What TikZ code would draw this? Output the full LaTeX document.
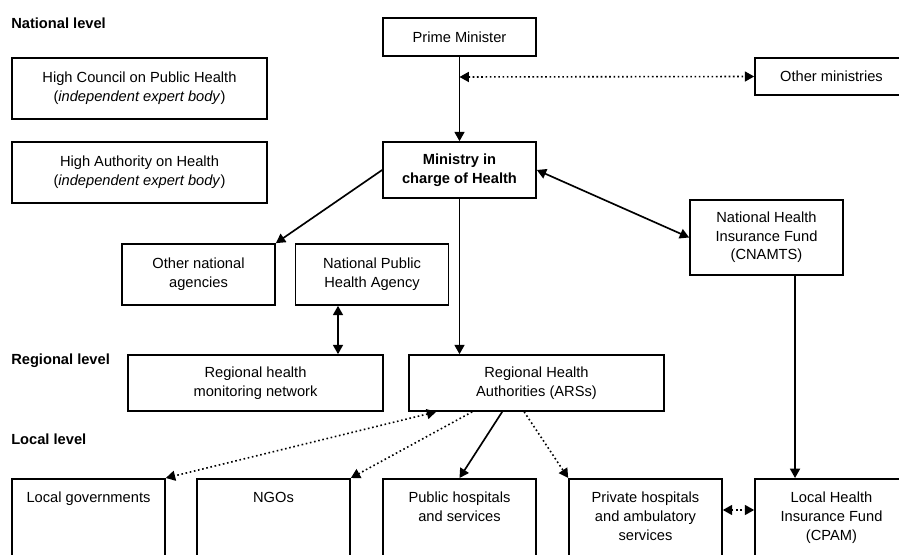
\documentclass[tikz,border=0pt]{standalone}
\usepackage{fontspec}
\setmainfont{Liberation Sans}
\usetikzlibrary{arrows.meta}
\tikzstyle{orgbox}=[draw,line width=1.25pt,inner sep=0pt,align=center,font=\fontsize{11}{14}\selectfont]
\tikzstyle{widebox}=[orgbox,minimum width=191.25pt]
\tikzstyle{narrowbox}=[orgbox,minimum width=114.75pt]
\tikzstyle{level}=[anchor=west,inner sep=0pt,font=\fontsize{11}{14}\selectfont\bfseries]
\tikzstyle{link}=[draw,line width=1.25pt,->]
\tikzstyle{twolink}=[draw,line width=1.25pt,<->]
\tikzstyle{dotlink}=[draw,line width=1.2pt,dotted,->]
\tikzstyle{twodotlink}=[draw,line width=1.2pt,dotted,<->]
\newcommand{\toptext}[1]{\parbox[t][66pt][t]{114.75pt}{\centering\vspace*{10pt}#1}}

\begin{document}
\begin{tikzpicture}[x=0.75pt,y=-0.75pt,>={Triangle[length=7pt,width=7.5pt]}]
    \useasboundingbox (0,0) rectangle (899,555);
    \clip (0,0) rectangle (899,555);
    % Level headings
    \node[level] (natl) at (11,23) {National level};
    \node[level] (regl) at (11,361) {Regional level};
    \node[level] (locl) at (11,439) {Local level};
    % National bodies
    \node[narrowbox,minimum height=28.5pt] (pm) at (459.5,37) {Prime Minister};
    \node[narrowbox,minimum height=27.75pt] (om) at (831.5,76.5) {Other ministries};
    \node[widebox,minimum height=45.75pt] (hcph) at (139.5,88.5) {High Council on Public Health\\(\textit{independent expert body})};
    \node[widebox,minimum height=45.75pt] (has) at (139.5,172.5) {High Authority on Health\\(\textit{independent expert body})};
    \node[narrowbox,minimum height=42pt,font=\fontsize{11}{14}\selectfont\bfseries] (moh) at (459.5,170) {Ministry in\\charge of Health};
    \node[narrowbox,minimum height=56.25pt] (cnamts) at (766.5,237.5) {National Health\\Insurance Fund\\(CNAMTS)};
    \node[narrowbox,minimum height=45.75pt] (ona) at (198.5,274.5) {Other national\\agencies};
    \node[narrowbox,minimum height=45.75pt] (npha) at (372,274.5) {National Public\\Health Agency};
    % Regional bodies
    \node[widebox,minimum height=42pt] (rhmn) at (255.5,383) {Regional health\\monitoring network};
    \node[widebox,minimum height=42pt] (ars) at (536.5,383) {Regional Health\\Authorities (ARSs)};
    % Local bodies
    \foreach \pos/\name/\txt in {{(88.5,478)/lg/Local governments}, {(273.5,478)/ngo/NGOs},
        {(459.5,478)/pub/{Public hospitals\\and services}},
        {(645.5,478)/priv/{Private hospitals\\and ambulatory\\services}},
        {(831.5,478)/lhif/{Local Health\\Insurance Fund\\(CPAM)}}}
        \node[orgbox,anchor=north] (\name) at \pos {\toptext{\txt}};
    % Link points
    \coordinate (pmlink) at (459.5,77);
    \coordinate (nphalink) at ([xshift=-25.5pt]npha.south);
    \coordinate (cnamtslink) at ([xshift=21.4pt]cnamts.south);
    \foreach \name/\dx in {arslg/21pt, arsngo/48pt, arspub/70.5pt, arspriv/87pt}
        \coordinate (\name) at ([xshift=\dx]ars.south west);
    \coordinate (privlink) at ([yshift=-24pt]priv.north east);
    \coordinate (lhiflink) at ([yshift=-24pt]lhif.north west);
    % Connect the boxes
    \path[link] (pm) -- (moh);
    \path[twodotlink] (pmlink) -- (om.west);
    \path[link] (moh.west) -- (ona.north east);
    \path[twolink] (moh.east) -- (cnamts.west);
    \path[link] (moh.south) -- (moh.south |- ars.north);
    \path[twolink] (nphalink) -- (nphalink |- rhmn.north);
    \path[link] (cnamtslink) -- (cnamtslink |- lhif.north);
    \path[twodotlink] (arslg) -- (lg.north east);
    \path[dotlink] (arsngo) -- (ngo.north east);
    \path[link] (arspub) -- (pub.north);
    \path[dotlink] (arspriv) -- (priv.north west);
    \path[twodotlink] (privlink) -- (lhiflink);
\end{tikzpicture}
\end{document}
